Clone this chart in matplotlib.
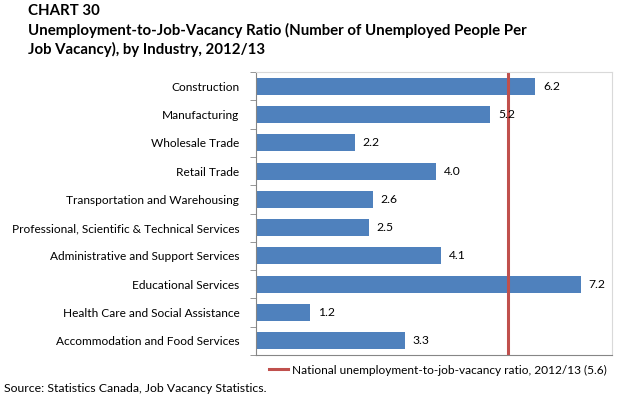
import numpy as np
import matplotlib.pyplot as plt
from matplotlib.lines import Line2D

plt.rcParams["font.family"] = ["Lato", "DejaVu Sans"]

industries = ["Construction", "Manufacturing", "Wholesale Trade", "Retail Trade",
              "Transportation and Warehousing",
              "Professional, Scientific & Technical Services",
              "Administrative and Support Services", "Educational Services",
              "Health Care and Social Assistance", "Accommodation and Food Services"]
ratios = [6.2, 5.2, 2.2, 4.0, 2.6, 2.5, 4.1, 7.2, 1.2, 3.3]
national = 5.6

BLUE = "#4F81BD"
RED = "#C0504D"

fig = plt.figure(figsize=(6.22, 3.97), dpi=100)
ax = fig.add_axes([0.4116, 0.1058, 0.5724, 0.7128])

y = np.arange(len(industries))
ax.barh(y, ratios, height=0.6, color=BLUE)
for yi, v in zip(y, ratios):
    ax.text(v + 0.17, yi, "{0:.1f}".format(v), va="center", ha="left", fontsize=8.7)
ax.axvline(national, color=RED, lw=2.2)

ax.set_xlim(0, 7.9)
ax.set_ylim(len(industries) - 0.5, -0.5)
ax.set_yticks(y)
ax.set_yticklabels(industries, fontsize=8.6)
ax.set_yticks(np.arange(-0.5, len(industries)), minor=True)
ax.tick_params(axis="y", which="major", length=0, pad=12)
ax.tick_params(axis="y", which="minor", length=4, color="#868686")
ax.set_xticks([])
for s in ["left", "bottom"]:
    ax.spines[s].set_color("#868686")
for s in ["top", "right"]:
    ax.spines[s].set_color("#D9D9D9")

fig.text(0.045, 0.99, "CHART 30", fontsize=10.8, fontweight="bold", va="top")
fig.text(0.045, 0.942, "Unemployment-to-Job-Vacancy Ratio (Number of Unemployed People Per\nJob Vacancy), by Industry, 2012/13",
         fontsize=10.8, fontweight="bold", va="top", linespacing=1.3)

fig.legend([Line2D([], [], color=RED, lw=2.2)],
           ["National unemployment-to-job-vacancy ratio, 2012/13 (5.6)"],
           loc="center left", bbox_to_anchor=(0.415, 0.068), frameon=False,
           fontsize=8.6, handlelength=1.6, handletextpad=0.3)
fig.text(0.006, 0.022, "Source: Statistics Canada, Job Vacancy Statistics.", fontsize=8.8, va="center")

fig.savefig("out.png", dpi=100)
